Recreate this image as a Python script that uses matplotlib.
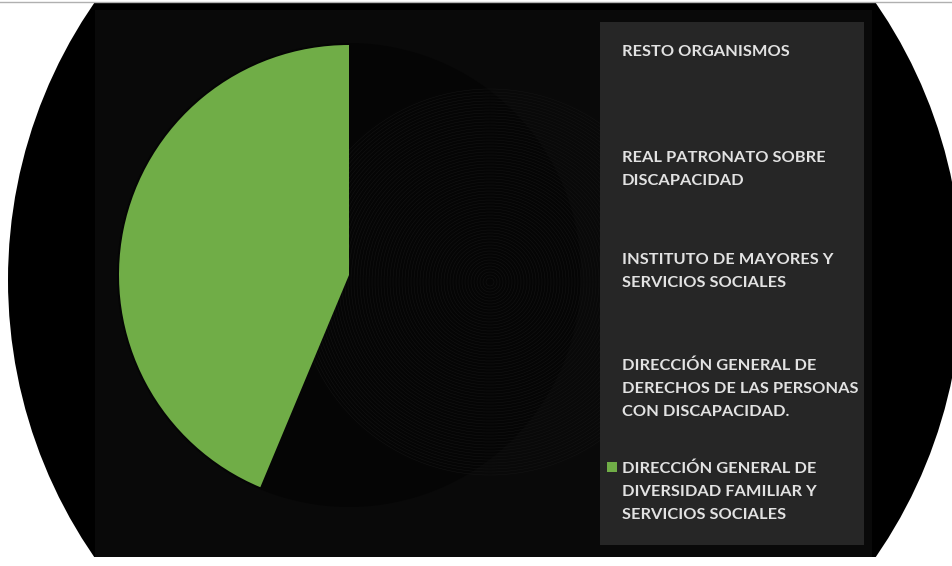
import numpy as np
import matplotlib.pyplot as plt
from matplotlib.patches import Ellipse, Rectangle, Circle

# data (only the green slice is visible)
labels = [
    'RESTO ORGANISMOS',
    'REAL PATRONATO SOBRE\nDISCAPACIDAD',
    'INSTITUTO DE MAYORES Y\nSERVICIOS SOCIALES',
    'DIRECCIÓN GENERAL DE\nDERECHOS DE LAS PERSONAS\nCON DISCAPACIDAD.',
    'DIRECCIÓN GENERAL DE\nDIVERSIDAD FAMILIAR Y\nSERVICIOS SOCIALES',
]
shares = [1.2, 0.6, 52.0, 2.5, 43.7]
slice_colors = ['none', 'none', 'none', 'none', '#70ad47']

W, H = 952, 566
fig = plt.figure(figsize=(W / 100, H / 100), dpi=100)
fig.patch.set_facecolor('white')

# background: big black oval clipped top and bottom
bg = fig.add_axes([0, 0, 1, 1])
bg.set_xlim(0, W)
bg.set_ylim(H, 0)
bg.axis('off')
clip = Rectangle((0, 3), W, 554, transform=bg.transData)
oval = Ellipse((485, 280), 954, 966, facecolor='black', edgecolor='none')
bg.add_patch(oval)
oval.set_clip_path(clip)
bg.plot([0, W], [1.5, 1.5], color='#b0b0b0', lw=1)
# chart area, a touch lighter than the oval
bg.add_patch(Rectangle((95, 10), 777, 547, facecolor='#090909', edgecolor='none'))
bg.add_patch(Circle((349, 275), 232, facecolor='#050505', edgecolor='none'))
# faint rings behind the pie
for r in np.arange(4, 196, 3):
    bg.add_patch(Circle((490, 282), r, facecolor='none', edgecolor='#131313', lw=0.4))

# pie
cx, cy, rad = 349, 275, 230
pie_ax = fig.add_axes([(cx - rad) / W, (H - cy - rad) / H, 2 * rad / W, 2 * rad / H])
pie_ax.pie(shares, colors=slice_colors, startangle=90, counterclock=False,
           wedgeprops=dict(edgecolor='none'))
pie_ax.set_xlim(-1, 1)
pie_ax.set_ylim(-1, 1)
pie_ax.axis('off')

# legend box
bg.add_patch(Rectangle((600, 22), 264, 523, facecolor='#262626', edgecolor='none'))
first_baselines = [56, 162, 264, 370, 473]
for lab, base in zip(labels, first_baselines):
    for i, line in enumerate(lab.split('\n')):
        bg.text(622, base + 23 * i, line, color='#e2e2e2', fontsize=11.8,
                fontweight='bold', family='Lato', va='baseline', ha='left')
bg.add_patch(Rectangle((607, 462), 10, 10, facecolor=slice_colors[-1], edgecolor='none'))

fig.savefig('out.png', dpi=100, facecolor=fig.get_facecolor())
